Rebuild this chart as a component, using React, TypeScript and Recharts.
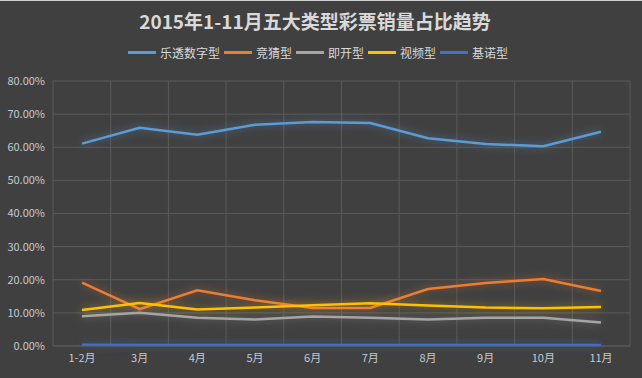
import { CartesianGrid, Line, LineChart, XAxis, YAxis } from "recharts";

const months = ["1-2月", "3月", "4月", "5月", "6月", "7月", "8月", "9月", "10月", "11月"];

// 占比, in percent
const lotto = [61.1, 65.9, 63.8, 66.8, 67.6, 67.3, 62.7, 61.0, 60.3, 64.7];
const jingcai = [19.1, 11.1, 16.8, 13.8, 11.5, 11.5, 17.2, 19.0, 20.2, 16.6];
const jikai = [9.0, 10.0, 8.5, 8.0, 8.9, 8.5, 8.0, 8.5, 8.5, 7.1];
const shipin = [10.9, 13.0, 11.0, 11.6, 12.3, 12.9, 12.2, 11.6, 11.4, 11.8];
const jinuo = [0.35, 0.3, 0.3, 0.3, 0.3, 0.3, 0.3, 0.3, 0.3, 0.3];

const yTicks = [0, 10, 20, 30, 40, 50, 60, 70, 80];

const series = [
  { key: "lotto", name: "乐透数字型", color: "#5b9bd5", values: lotto },
  { key: "jingcai", name: "竞猜型", color: "#ed7d31", values: jingcai },
  { key: "jikai", name: "即开型", color: "#a5a5a5", values: jikai },
  { key: "shipin", name: "视频型", color: "#ffc000", values: shipin },
  { key: "jinuo", name: "基诺型", color: "#4472c4", values: jinuo },
];

const data = months.map((month, i) => {
  const row: Record<string, string | number> = { month };
  series.forEach((s) => (row[s.key] = s.values[i]));
  return row;
});

const font = '"Noto Sans CJK SC", "Noto Sans", sans-serif';
const grid = "#5a5a5a";
const text = "#c4cad2";

export default function App() {
  return (
    <div
      style={{
        position: "absolute",
        top: 0,
        left: 0,
        width: 642,
        height: 378,
        background: "#404040",
        fontFamily: font,
      }}
    >
      <div style={{ position: "absolute", top: 0, left: 0, width: 642, height: 1, background: "#cfcfcf" }} />
      <div
        style={{
          position: "absolute",
          top: 7,
          left: 0,
          width: 630,
          textAlign: "center",
          color: "#d9d9d9",
          fontSize: 19,
          fontWeight: "bold",
        }}
      >
        2015年1-11月五大类型彩票销量占比趋势
      </div>
      <div
        style={{
          position: "absolute",
          top: 44,
          left: 0,
          width: 642,
          display: "flex",
          justifyContent: "center",
          paddingRight: 2,
          boxSizing: "border-box",
        }}
      >
        {series.map((s) => (
          <div key={s.key} style={{ display: "flex", alignItems: "center", marginRight: 4 }}>
            <span style={{ width: 28, height: 3, background: s.color, marginRight: 4 }} />
            <span style={{ color: "#d9d9d9", fontSize: 12 }}>{s.name}</span>
          </div>
        ))}
      </div>
      <LineChart
        width={642}
        height={378}
        data={data}
        margin={{ top: 81, right: 12, left: 0, bottom: 2 }}
      >
        <defs>
          <filter id="glow" filterUnits="userSpaceOnUse" x="0" y="0" width="642" height="378">
            <feGaussianBlur in="SourceGraphic" stdDeviation="4" result="blur" />
            <feComponentTransfer in="blur" result="soft">
              <feFuncA type="linear" slope="0.55" />
            </feComponentTransfer>
            <feMerge>
              <feMergeNode in="soft" />
              <feMergeNode in="SourceGraphic" />
            </feMerge>
          </filter>
        </defs>
        <CartesianGrid
          stroke={grid}
          verticalCoordinatesGenerator={({ offset }: any) =>
            months.map((_, i) => offset.left + (i * offset.width) / months.length).concat(offset.left + offset.width)
          }
        />
        <XAxis
          dataKey="month"
          height={30}
          padding={{ left: 29, right: 29 }}
          axisLine={{ stroke: grid }}
          tickLine={false}
          interval={0}
          tick={{ fill: text, fontSize: 11, fontFamily: font }}
        />
        <YAxis
          width={53}
          domain={[0, 80]}
          ticks={yTicks}
          axisLine={false}
          tickLine={false}
          tick={{ fill: text, fontSize: 11, fontFamily: font }}
          tickFormatter={(v: number) => `${v.toFixed(2)}%`}
        />
        {series.map((s) => (
          <Line
            key={s.key}
            dataKey={s.key}
            name={s.name}
            type="linear"
            stroke={s.color}
            strokeWidth={2.5}
            dot={false}
            filter="url(#glow)"
            isAnimationActive={false}
          />
        ))}
      </LineChart>
    </div>
  );
}
